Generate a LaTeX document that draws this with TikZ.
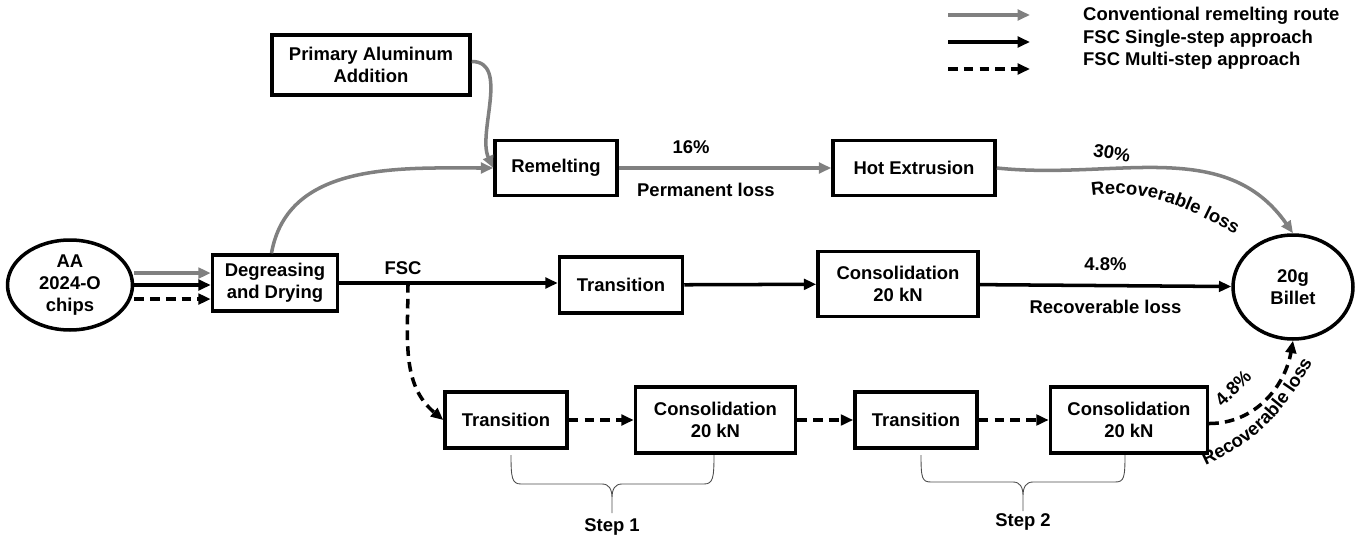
\documentclass[tikz,border=0pt]{standalone}
\usepackage{fontspec}
\setmainfont{Liberation Sans}
\usepackage{xcolor}
\usepackage{tikz}
\usetikzlibrary{arrows.meta, positioning, shapes.geometric, decorations.text}

\definecolor{routegray}{RGB}{128,128,128}

\begin{document}
\begin{tikzpicture}[x=0.02cm, y=-0.02cm,
        font=\fontsize{10.5}{12.5}\selectfont\bfseries,
        >={Triangle[length=7pt,width=6pt]},
        box/.style={draw, line width=2pt, align=center, inner sep=2pt, minimum height=1.12cm},
        blob/.style={draw, ellipse, line width=2pt, align=center, inner sep=0pt},
        conv/.style={->, routegray, line width=2pt},
        single/.style={->, black, line width=2pt},
        multi/.style={->, black, line width=2pt, dash pattern=on 5.5pt off 3.5pt},
        lbl/.style={text=black},
        brc/.style={draw, black!70, line width=0.5pt},
        bend text/.style={decorate, decoration={text along path, text align=center, text={#1}}}]
        \useasboundingbox (0,0) rectangle (1356,541);

        \node[blob, minimum width=2.5cm, minimum height=1.8cm] (chips) at (70,285) {AA\\2024-O\\chips};
        \node[box, minimum width=2.5cm] (degr) at (275,283) {Degreasing\\and Drying};
        \node[box, minimum width=3.96cm, minimum height=1.2cm] (prim) at (371,65) {Primary Aluminum\\Addition};
        \node[box, minimum width=2.44cm, minimum height=1.1cm] (remelt) at (556,168) {Remelting};
        \node[box, minimum width=3.24cm, minimum height=1.1cm] (hotex) at (914,168) {Hot Extrusion};
        \node[box, minimum width=2.46cm] (trans) at (621,285) {Transition};
        \node[box, minimum width=3.2cm, minimum height=1.3cm] (consol) at (898,284) {Consolidation\\20 kN};
        \node[blob, minimum width=2.4cm, minimum height=2.08cm] (billet) at (1293,287) {20g\\Billet};
%
        \node[box, minimum width=2.44cm] (trans1) at (506,420) {Transition};
        \node[box, minimum width=3.2cm, minimum height=1.32cm, right=1.3cm of trans1] (consol1) {Consolidation\\20 kN};
        \node[box, minimum width=2.44cm, right=1.12cm of consol1] (trans2) {Transition};
        \node[box, minimum width=3.14cm, minimum height=1.32cm, right=1.4cm of trans2] (consol2) {Consolidation\\20 kN};

        % conventional remelting route
        \draw[conv] ([yshift=6.8pt]chips.east) -- ([yshift=6.8pt]chips.east -| degr.west);
        \draw[conv] ([xshift=-2pt]degr.north) to[out=80, in=180] (remelt.west);
        \draw[conv] ([yshift=2pt]prim.east) to[out=0, in=115, looseness=0.9] (remelt.west);
        \draw[conv] (remelt) -- node[lbl, pos=0.34, above=4pt] (p16) {16\%}
            node[lbl, pos=0.41, below=4pt] (ploss) {Permanent loss} (hotex);
        \draw[conv] (hotex.east) to[out=-6, in=125] (billet.north);
        \node[rotate=-10] (p30) at (1112,153) {30\%};
        \path[bend text={|\fontsize{10.5}{12.5}\selectfont\bfseries|Recoverable  loss}]
            (1079,198) to[out=12, in=152] (1247,240);

        % single-step
        \coordinate (fsc) at (408,283);
        \node (fsclbl) at (403,268) {FSC};
        \draw[single] (chips) -- (chips -| degr.west);
        \draw[single] (degr) -- (degr -| trans.west);
        \draw[single] (trans) -- (consol);
        \draw[single] (consol) -- node[above=4pt] (p48) {4.8\%}
            node[below=4pt] (rloss) {Recoverable loss} (billet);

        % multi-step
        \draw[multi] ([yshift=-8pt]chips.east) -- ([yshift=-8pt]chips.east -| degr.west);
        \draw[multi] (fsc) to[out=-90, in=140] (trans1.west);
        \draw[multi] (trans1) -- (consol1);
        \draw[multi] (consol1) -- (trans2);
        \draw[multi] (trans2) -- (consol2);
        \draw[multi] ([yshift=-2pt]consol2.east) to[out=0, in=-100] (billet.south);
        \node[rotate=45] (q48) at (1233,388) {4.8\%};
        \path[bend text={|\fontsize{10.5}{12.5}\selectfont\bfseries|Recoverable loss}]
            (1195,470) to[out=22, in=-118] (1318,352);

        % steps
        \foreach \l/\m/\r/\yh/\yt/\n in {511/612/714/484/527/1, 921/1023/1125/482/522/2} {
            \path[brc] (\l,455) .. controls (\l,478) and (\l+1,\yh) .. (\l+10,\yh) -- (\m-10,\yh)
                .. controls (\m-3,\yh) and (\m,\yh+5) .. (\m,\yh+14) -- (\m,\yh+29)
                (\m,\yh+14) .. controls (\m,\yh+5) and (\m+3,\yh) .. (\m+10,\yh) -- (\r-10,\yh)
                .. controls (\r-1,\yh) and (\r,478) .. (\r,455);
            \node (step\n) at (\m,\yt) {Step \n};
        }

        % legend
        \foreach \sty/\ya/\yt/\txt [count=\i] in {conv/15/16/Conventional remelting route,
                single/42/39/FSC Single-step approach, multi/69/61/FSC Multi-step approach} {
            \coordinate (key\i) at (948,\ya);
            \coordinate (keyend\i) at (1030,\ya);
            \node[anchor=west] (leg\i) at (1077,\yt) {\txt};
            \draw[\sty] (key\i) -- (keyend\i);
        }
\end{tikzpicture}
\end{document}
